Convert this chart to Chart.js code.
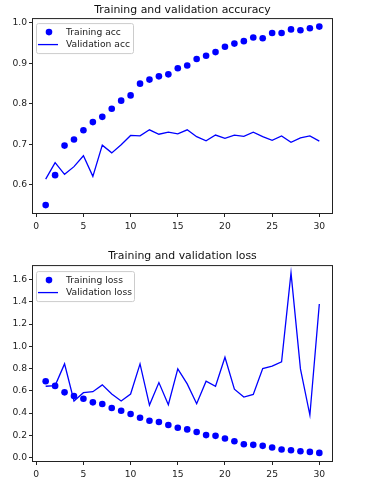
<!DOCTYPE html>
<html>
<head>
<meta charset="utf-8">
<script src="https://cdn.jsdelivr.net/npm/chart.js@4"></script>
<style>
  body { margin: 0; background: #fff; }
  #wrap { position: relative; width: 370px; height: 487px; }
  canvas { position: absolute; left: 0; }
</style>
</head>
<body>
<div id="wrap">
  <canvas id="acc_chart" width="370" height="240" style="top:0"></canvas>
  <canvas id="loss_chart" width="370" height="247" style="top:240px"></canvas>
</div>
<script>
const epochs = [1, 2, 3, 4, 5, 6, 7, 8, 9, 10, 11, 12, 13, 14, 15, 16, 17, 18, 19, 20, 21, 22, 23, 24, 25, 26, 27, 28, 29, 30];
const train_acc = [0.550, 0.624, 0.697, 0.712, 0.735, 0.755, 0.768, 0.788, 0.808, 0.821, 0.850, 0.860, 0.868, 0.873, 0.888, 0.895, 0.911, 0.919, 0.928, 0.941, 0.949, 0.955, 0.964, 0.962, 0.975, 0.975, 0.984, 0.982, 0.987, 0.991];
const val_acc = [0.614, 0.655, 0.626, 0.645, 0.672, 0.621, 0.698, 0.679, 0.699, 0.722, 0.721, 0.736, 0.725, 0.730, 0.726, 0.736, 0.719, 0.709, 0.723, 0.715, 0.723, 0.720, 0.730, 0.719, 0.710, 0.721, 0.705, 0.716, 0.721, 0.708];
const train_loss = [0.686, 0.644, 0.586, 0.553, 0.529, 0.496, 0.481, 0.445, 0.421, 0.391, 0.358, 0.331, 0.319, 0.292, 0.268, 0.253, 0.229, 0.202, 0.195, 0.171, 0.147, 0.120, 0.114, 0.105, 0.090, 0.072, 0.066, 0.057, 0.051, 0.042];
const val_loss = [0.641, 0.647, 0.842, 0.508, 0.583, 0.592, 0.653, 0.571, 0.508, 0.571, 0.842, 0.472, 0.674, 0.475, 0.797, 0.662, 0.484, 0.686, 0.641, 0.902, 0.614, 0.544, 0.568, 0.800, 0.821, 0.860, 1.660, 0.797, 0.382, 1.380];

Chart.defaults.font.family = "'DejaVu Sans', sans-serif";
Chart.defaults.font.size = 9.2;
Chart.defaults.color = '#222';

// matplotlib style box around the axes
const frame_plugin = {
    id: 'frame',
    afterDatasetsDraw(chart) {
        const a = chart.chartArea;
        const ctx = chart.ctx;
        ctx.save();
        ctx.strokeStyle = '#222';
        ctx.lineWidth = 1;
        ctx.strokeRect(a.left + 0.5, a.top + 0.5, a.right - a.left - 1, a.bottom - a.top - 1);
        ctx.restore();
    }
};

// legend box drawn inside the upper left corner
const box_legend_plugin = {
    id: 'boxLegend',
    afterDraw(chart, args, opts) {
        const a = chart.chartArea;
        const ctx = chart.ctx;
        const x = a.left + 4;
        const y = a.top + opts.dy;
        const w = opts.w, h = 30;
        ctx.save();
        ctx.fillStyle = 'rgba(255,255,255,0.8)';
        ctx.strokeStyle = '#ccc';
        ctx.lineWidth = 1;
        ctx.beginPath();
        ctx.roundRect(x + 0.5, y + 0.5, w, h, 2);
        ctx.fill();
        ctx.stroke();

        const sets = chart.data.datasets;
        ctx.font = "9.2px 'DejaVu Sans'";
        ctx.textBaseline = 'middle';
        // row 1: dots
        ctx.fillStyle = '#0000ff';
        ctx.beginPath();
        ctx.arc(x + 13, y + 9, 3.3, 0, Math.PI * 2);
        ctx.fill();
        ctx.fillStyle = '#222';
        ctx.fillText(sets[0].label, x + 30, y + 9.5);
        // row 2: line
        ctx.strokeStyle = '#0000ff';
        ctx.lineWidth = 1.3;
        ctx.beginPath();
        ctx.moveTo(x + 2, y + 21.5);
        ctx.lineTo(x + 22, y + 21.5);
        ctx.stroke();
        ctx.fillText(sets[1].label, x + 30, y + 21.5);
        ctx.restore();
    }
};

function make_chart(el, title, title_pad, labels, train, val, y_min, y_max, y_step, x_height, legend_opts) {
    return new Chart(el, {
        type: 'scatter',
        data: {
            datasets: [{
                label: labels[0],
                data: epochs.map((e, i) => ({ x: e, y: train[i] })),
                showLine: false,
                pointRadius: 3.3,
                pointHoverRadius: 3.3,
                pointBackgroundColor: '#0000ff',
                pointBorderWidth: 0
            }, {
                label: labels[1],
                data: epochs.map((e, i) => ({ x: e, y: val[i] })),
                showLine: true,
                borderColor: '#0000ff',
                borderWidth: 1.3,
                pointRadius: 0,
                tension: 0
            }]
        },
        options: {
            responsive: false,
            animation: false,
            events: [],
            layout: { padding: { left: 0, right: 37, top: 0, bottom: 0 } },
            plugins: {
                legend: { display: false },
                tooltip: { enabled: false },
                title: {
                    display: true,
                    text: title,
                    fullSize: false,
                    color: '#111',
                    font: { size: 10.9, weight: 'normal' },
                    padding: title_pad
                },
                boxLegend: legend_opts
            },
            scales: {
                x: {
                    type: 'linear',
                    min: -0.45,
                    max: 31.45,
                    afterFit(scale) { scale.height = x_height; },
                    border: { display: false },
                    grid: { drawOnChartArea: false, tickLength: 3, color: '#222' },
                    ticks: { stepSize: 5, includeBounds: false, padding: 4, maxRotation: 0 }
                },
                y: {
                    min: y_min,
                    max: y_max,
                    afterFit(scale) { scale.width = 32; },
                    border: { display: false },
                    grid: { drawOnChartArea: false, tickLength: 3, color: '#222' },
                    ticks: {
                        stepSize: y_step,
                        includeBounds: false,
                        padding: 2,
                        callback: v => v.toFixed(1)
                    }
                }
            }
        },
        plugins: [frame_plugin, box_legend_plugin]
    });
}

make_chart(document.getElementById('acc_chart'), 'Training and validation accuracy',
    { top: 4, bottom: 1 }, ['Training acc', 'Validation acc'],
    train_acc, val_acc, 0.528, 1.012, 0.1, 26, { dy: 5, w: 97 });

make_chart(document.getElementById('loss_chart'), 'Training and validation loss',
    { top: 10, bottom: 2 }, ['Training loss', 'Validation loss'],
    train_loss, val_loss, -0.04, 1.73, 0.2, 25, { dy: 6, w: 98 });
</script>
</body>
</html>
